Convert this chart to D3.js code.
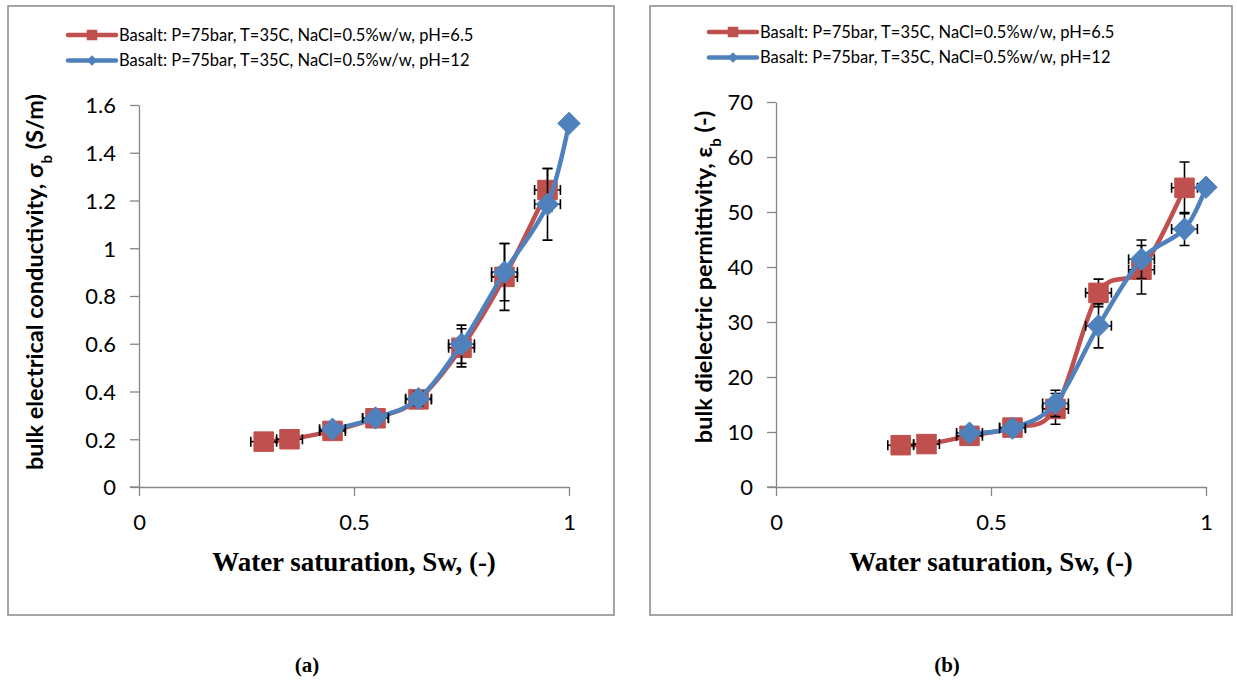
<!DOCTYPE html>
<html lang="en">
<head>
    <meta charset="UTF-8">
    <title>Basalt conductivity and permittivity vs water saturation</title>
    <script src="https://cdnjs.cloudflare.com/ajax/libs/d3/7.8.5/d3.min.js"></script>
    <style>
        body {
            margin: 0;
            background: #fff;
        }
        svg text {
            fill: #000;
        }
        .tick text {
            font-family: Lato, "Open Sans", sans-serif;
            font-size: 22px;
        }
        .axis path, .axis line {
            stroke: #868686;
            stroke-width: 1.3;
        }
    </style>
</head>
<body>
<svg id="chart" width="1237" height="686"></svg>
<script>
    // Series data
    const seriesNames = [
        "Basalt: P=75bar, T=35C, NaCl=0.5%w/w, pH=6.5",
        "Basalt: P=75bar, T=35C, NaCl=0.5%w/w, pH=12"
    ];
    const swRed = [0.29, 0.35, 0.45, 0.55, 0.65, 0.75, 0.85, 0.95];
    const swBlue = [0.45, 0.55, 0.65, 0.75, 0.85, 0.95, 1.0];
    const swErr = 0.03;

    // (a) bulk electrical conductivity (S/m)
    const condRed = [0.19, 0.20, 0.235, 0.288, 0.367, 0.583, 0.88, 1.244];
    const condRedErr = [0.005, 0.008, 0.012, 0.015, 0.03, 0.08, 0.14, 0.09];
    const condBlue = [0.242, 0.289, 0.37, 0.598, 0.90, 1.184, 1.523];
    const condBlueErr = [0.012, 0.015, 0.03, 0.08, 0.12, 0.15, 0];
    const condTicks = [0, 0.2, 0.4, 0.6, 0.8, 1, 1.2, 1.4, 1.6];

    // (b) bulk dielectric permittivity (-)
    const permRed = [7.6, 7.8, 9.3, 10.8, 14.2, 35.3, 39.5, 54.4];
    const permRedErr = [0.3, 0.4, 0.6, 0.8, 2.8, 2.5, 4.4, 4.7];
    const permBlue = [9.8, 10.7, 15.2, 29.3, 41.4, 46.9, 54.5];
    const permBlueErr = [0.6, 0.8, 2.4, 4.0, 3.5, 3.0, 0];
    const permTicks = [0, 10, 20, 30, 40, 50, 60, 70];

    const swTicks = [0, 0.5, 1];

    const RED = "#C0504D";
    const BLUE = "#4F81BD";

    const svg = d3.select("#chart");

    function drawPanel(opt) {
        const g = svg.append("g");

        // outer frame
        g.append("rect")
            .attr("x", opt.frame[0]).attr("y", opt.frame[1])
            .attr("width", opt.frame[2]).attr("height", opt.frame[3])
            .attr("fill", "none").attr("stroke", "#868686").attr("stroke-width", 1.5);

        const x = d3.scaleLinear().domain([0, 1]).range([opt.left, opt.left + 430]);
        const y = d3.scaleLinear().domain(opt.yDomain).range([487, opt.top]);

        // axes
        g.append("g").attr("class", "axis")
            .attr("transform", `translate(0,${y(0)})`)
            .call(d3.axisBottom(x).tickValues(swTicks).tickSize(9).tickSizeOuter(0).tickFormat(d3.format("")))
            .call(a => a.selectAll("text").attr("dy", "0").attr("y", 43));
        g.append("g").attr("class", "axis")
            .attr("transform", `translate(${x(0)},0)`)
            .call(d3.axisLeft(y).tickValues(opt.yTicks).tickSize(9).tickSizeOuter(0).tickFormat(d3.format("")))
            .call(a => a.selectAll("text").attr("x", -23).attr("dy", "0.36em"));
        // little overhang of x axis to the left of the y axis, as in the original
        g.append("line")
            .attr("x1", x(0) - 9).attr("x2", x(0)).attr("y1", y(0)).attr("y2", y(0))
            .attr("stroke", "#868686").attr("stroke-width", 1.3);

        const line = d3.line()
            .x(d => x(d.sw)).y(d => y(d.v))
            .curve(d3.curveCatmullRom.alpha(0));

        const series = [
            { xs: swRed, ys: opt.red, err: opt.redErr, color: RED, marker: "square" },
            { xs: swBlue, ys: opt.blue, err: opt.blueErr, color: BLUE, marker: "diamond" }
        ];

        series.forEach(s => {
            const pts = s.xs.map((sw, i) => ({ sw: sw, v: s.ys[i], e: s.err[i] }));
            const sg = g.append("g");

            sg.append("path")
                .datum(pts)
                .attr("d", line)
                .attr("fill", "none")
                .attr("stroke", s.color)
                .attr("stroke-width", 4.5)
                .attr("stroke-linejoin", "round");

            // error bars (x and y)
            const eb = sg.append("g")
                .attr("stroke", "#000").attr("stroke-width", 1.6).attr("fill", "none");
            pts.filter(p => p.e > 0).forEach(p => {
                const cx = x(p.sw), cy = y(p.v);
                const yt = y(p.v + p.e), yb = y(p.v - p.e);
                eb.append("path").attr("d",
                    `M${cx},${yt}V${yb}M${cx - 5},${yt}H${cx + 5}M${cx - 5},${yb}H${cx + 5}`);
                const xl = x(p.sw - swErr), xr = x(p.sw + swErr);
                eb.append("path").attr("d",
                    `M${xl},${cy}H${xr}M${xl},${cy - 5}V${cy + 5}M${xr},${cy - 5}V${cy + 5}`);
            });

            const sym = s.marker === "square"
                ? d3.symbol().type(d3.symbolSquare).size(380)
                : d3.symbol().type(d3.symbolDiamond2).size(320);
            sg.selectAll(".m")
                .data(pts)
                .join("path")
                .attr("transform", d => `translate(${x(d.sw)},${y(d.v)})`)
                .attr("d", sym)
                .attr("fill", s.color)
                .attr("stroke", s.color)
                .attr("stroke-width", 1)
                .attr("stroke-linejoin", "round");
        });

        // legend
        const lg = g.append("g");
        seriesNames.forEach((name, i) => {
            const ly = opt.legendY + i * 25.5;
            const s = series[i];
            lg.append("line")
                .attr("x1", opt.legendX).attr("x2", opt.legendX + 48)
                .attr("y1", ly).attr("y2", ly)
                .attr("stroke", s.color).attr("stroke-width", 4.5).attr("stroke-linecap", "round");
            const msym = s.marker === "square"
                ? d3.symbol().type(d3.symbolSquare).size(110)
                : d3.symbol().type(d3.symbolDiamond2).size(70);
            lg.append("path")
                .attr("transform", `translate(${opt.legendX + 24},${ly})`)
                .attr("d", msym).attr("fill", s.color);
            lg.append("text")
                .attr("x", opt.legendX + 51).attr("y", ly)
                .attr("dy", "0.35em")
                .style("font-family", "Lato, 'Open Sans', sans-serif")
                .style("font-size", "16.5px")
                .text(name);
        });

        // y axis title
        const yt = g.append("text")
            .attr("transform", `translate(${opt.yTitleX},${opt.yTitleY}) rotate(-90)`)
            .attr("text-anchor", "middle")
            .style("font-family", "Lato, 'Open Sans', sans-serif")
            .style("font-size", "23.5px")
            .style("font-weight", "bold");
        yt.append("tspan").text(opt.yTitle[0]);
        yt.append("tspan").attr("baseline-shift", "sub").style("font-size", "15px").text("b");
        yt.append("tspan").text(opt.yTitle[1]);

        // x axis title
        g.append("text")
            .attr("x", x(0.5)).attr("y", 571)
            .attr("text-anchor", "middle")
            .style("font-family", "'Liberation Serif', 'Times New Roman', serif")
            .style("font-size", "27px")
            .style("font-weight", "bold")
            .text("Water saturation, Sw, (-)");

        // panel label
        g.append("text")
            .attr("x", opt.labelX).attr("y", 672)
            .attr("text-anchor", "middle")
            .style("font-family", "'Liberation Serif', 'Times New Roman', serif")
            .style("font-size", "21px")
            .style("font-weight", "bold")
            .text(opt.label);
    }

    drawPanel({
        frame: [8, 6, 606, 609],
        left: 139, top: 105,
        yDomain: [0, 1.6], yTicks: condTicks,
        red: condRed, redErr: condRedErr, blue: condBlue, blueErr: condBlueErr,
        legendX: 68, legendY: 35,
        yTitleX: 43, yTitleY: 282, yTitle: ["bulk electrical conductivity, σ", " (S/m)"],
        labelX: 307, label: "(a)"
    });

    drawPanel({
        frame: [650, 6, 582, 609],
        left: 776, top: 102,
        yDomain: [0, 70], yTicks: permTicks,
        red: permRed, redErr: permRedErr, blue: permBlue, blueErr: permBlueErr,
        legendX: 709, legendY: 32,
        yTitleX: 712, yTitleY: 277, yTitle: ["bulk dielectric permittivity, ε", " (-)"],
        labelX: 947, label: "(b)"
    });
</script>
</body>
</html>
